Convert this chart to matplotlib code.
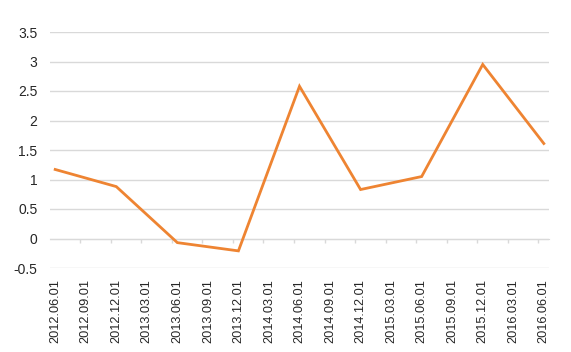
import matplotlib
matplotlib.use("Agg")
import matplotlib.pyplot as plt

categories = ["2012.06.01", "2012.09.01", "2012.12.01", "2013.03.01", "2013.06.01",
              "2013.09.01", "2013.12.01", "2014.03.01", "2014.06.01", "2014.09.01",
              "2014.12.01", "2015.03.01", "2015.06.01", "2015.09.01", "2015.12.01",
              "2016.03.01", "2016.06.01"]
data_dates = ["2012.06.01", "2012.12.01", "2013.06.01", "2013.12.01", "2014.06.01",
              "2014.12.01", "2015.06.01", "2015.12.01", "2016.06.01"]
values = [1.17, 0.88, -0.07, -0.21, 2.58, 0.83, 1.05, 2.95, 1.61]
yticks = [-0.5, 0, 0.5, 1, 1.5, 2, 2.5, 3, 3.5]
ytick_labels = ["-0.5", "0", "0.5", "1", "1.5", "2", "2.5", "3", "3.5"]

plt.rcParams['font.family'] = ['Liberation Sans', 'DejaVu Sans']

fig = plt.figure(figsize=(5.71, 3.52), dpi=100)
ax = fig.add_axes([50/571, 1-268/352, (549-50)/571, (268-32)/352])

xs = [categories.index(d) for d in data_dates]
ax.plot(xs, values, color="#EE8432", lw=2.0, solid_joinstyle="miter", zorder=3)

ax.set_xlim(-0.17, len(categories) - 1 + 0.17)
ax.set_ylim(-0.5, 3.5)
ax.set_yticks(yticks)
ax.set_yticklabels(ytick_labels)
ax.set_xticks(range(len(categories)))
ax.set_xticklabels(categories, rotation=90)

for s in ax.spines.values():
    s.set_visible(False)
ax.grid(axis="y", color="#D9D9D9", lw=1.0)
ax.set_axisbelow(True)
ax.tick_params(axis="y", length=0, pad=9, labelsize=10, labelcolor="#262626")
ax.tick_params(axis="x", length=0, pad=8, labelsize=9.2, labelcolor="#262626")

# category axis line at zero with tick marks between categories
sec = ax.secondary_xaxis(0.5 / 4.0)
sec.set_xticks([i - 0.18 for i in range(len(categories))])
sec.set_xticklabels([])
sec.spines['bottom'].set_color("#D9D9D9")
sec.tick_params(axis="x", direction="out", length=3, color="#D9D9D9", width=1)

fig.savefig("out.png", dpi=100, facecolor="white")
